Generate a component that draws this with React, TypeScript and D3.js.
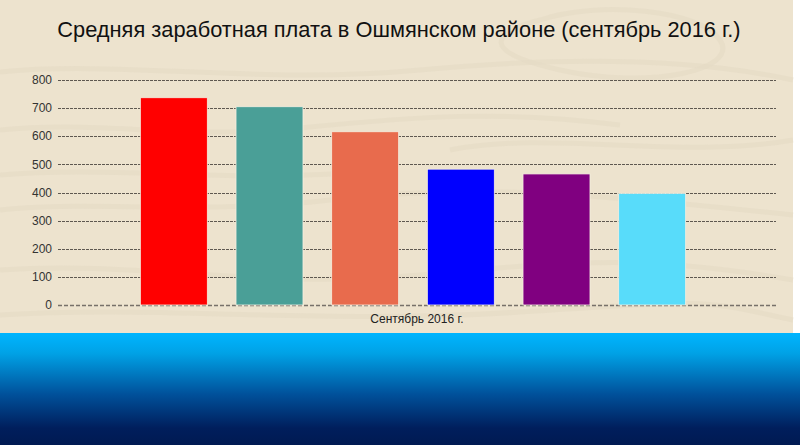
import React, { useEffect, useRef } from "react";
import * as d3 from "d3";

const title = "Средняя заработная плата в Ошмянском районе (сентябрь 2016 г.)";
const category = "Сентябрь 2016 г.";
const seriesNames = ["Серия 1", "Серия 2", "Серия 3", "Серия 4", "Серия 5", "Серия 6"];
const seriesValues = [737, 705, 616, 483, 466, 397];
const seriesColors = ["#FF0000", "#4A9F97", "#E86B4D", "#0000FF", "#800080", "#58DCFA"];
const yTicks = [0, 100, 200, 300, 400, 500, 600, 700, 800];

const W = 800;
const H = 445;

export default function App() {
  const ref = useRef<SVGSVGElement>(null);

  useEffect(() => {
    const svg = d3.select(ref.current);
    svg.selectAll("*").remove();

    const defs = svg.append("defs");
    const grad = defs
      .append("linearGradient")
      .attr("id", "footer")
      .attr("x1", 0)
      .attr("y1", 0)
      .attr("x2", 0)
      .attr("y2", 1);
    grad.append("stop").attr("offset", "0%").attr("stop-color", "#00B5FF");
    grad.append("stop").attr("offset", "18%").attr("stop-color", "#00A2E6");
    grad.append("stop").attr("offset", "55%").attr("stop-color", "#00509A");
    grad.append("stop").attr("offset", "85%").attr("stop-color", "#001E5C");
    grad.append("stop").attr("offset", "100%").attr("stop-color", "#001A52");

    // page background
    svg.append("rect").attr("x", 0).attr("y", 0).attr("width", W).attr("height", H).attr("fill", "#FFFFFF");
    svg.append("rect").attr("x", 0).attr("y", 0).attr("width", 793).attr("height", 333).attr("fill", "#EDE3CE");

    // faint wood-grain texture
    const texture = [
      "M0,72 C120,60 260,85 420,70 S700,60 793,80",
      "M0,130 C100,120 180,140 300,128 S500,110 620,125",
      "M0,210 C80,200 200,215 330,200 S560,190 793,215",
      "M0,270 C140,260 260,290 420,275 S650,255 793,280",
      "M0,315 C160,305 320,325 520,312 S700,300 793,320",
      "M540,20 C600,0 700,10 720,40 S650,90 560,70 S500,30 540,20",
      "M0,175 C120,165 240,185 380,170",
      "M450,150 C550,130 680,160 793,140",
    ];
    svg
      .append("g")
      .selectAll("path")
      .data(texture)
      .join("path")
      .attr("d", (d) => d)
      .attr("fill", "none")
      .attr("stroke", "#E5DAC4")
      .attr("stroke-width", 5)
      .attr("opacity", 0.6);

    // footer gradient
    svg.append("rect").attr("x", 0).attr("y", 333).attr("width", W).attr("height", H - 333).attr("fill", "url(#footer)");

    const left = 58;
    const right = 776;
    const top = 80;
    const bottom = 305;

    const y = d3.scaleLinear().domain([0, 800]).range([bottom, top]);
    const x = d3
      .scaleBand<string>()
      .domain(seriesNames)
      .range([126, 700])
      .paddingInner(0.3)
      .paddingOuter(0.15);

    // gridlines
    svg
      .append("g")
      .selectAll("line")
      .data(yTicks)
      .join("line")
      .attr("x1", left)
      .attr("x2", right)
      .attr("y1", (d) => Math.round(y(d)) + 0.5)
      .attr("y2", (d) => Math.round(y(d)) + 0.5)
      .attr("stroke", (d) => (d === 0 ? "#77716A" : "#5E5850"))
      .attr("stroke-width", (d) => (d === 0 ? 1.5 : 1))
      .attr("stroke-dasharray", (d) => (d === 0 ? "4,2" : "3,1"));

    // y labels
    svg
      .append("g")
      .selectAll("text")
      .data(yTicks)
      .join("text")
      .attr("x", 52)
      .attr("y", (d) => y(d))
      .attr("dy", "0.35em")
      .attr("text-anchor", "end")
      .attr("font-family", "Liberation Sans, Arial, sans-serif")
      .attr("font-size", 12)
      .attr("fill", "#333")
      .text((d) => String(d));

    // bars
    svg
      .append("g")
      .selectAll("rect")
      .data(seriesValues)
      .join("rect")
      .attr("x", (_, i) => x(seriesNames[i])!)
      .attr("y", (d) => y(d))
      .attr("width", x.bandwidth())
      .attr("height", (d) => bottom - y(d))
      .attr("fill", (_, i) => seriesColors[i])
      .attr("stroke", "#F5EEDF")
      .attr("stroke-width", 0.8);

    // category label
    svg
      .append("text")
      .attr("x", 417)
      .attr("y", 323)
      .attr("text-anchor", "middle")
      .attr("font-family", "Liberation Sans, Arial, sans-serif")
      .attr("font-size", 12)
      .attr("fill", "#222")
      .text(category);

    // title
    svg
      .append("text")
      .attr("x", 399)
      .attr("y", 37)
      .attr("text-anchor", "middle")
      .attr("font-family", "Liberation Sans, Arial, sans-serif")
      .attr("font-size", 21.8)
      .attr("fill", "#111")
      .text(title);
  }, []);

  return (
    <svg
      ref={ref}
      width={W}
      height={H}
      style={{ position: "absolute", left: 0, top: 0, display: "block" }}
    />
  );
}
